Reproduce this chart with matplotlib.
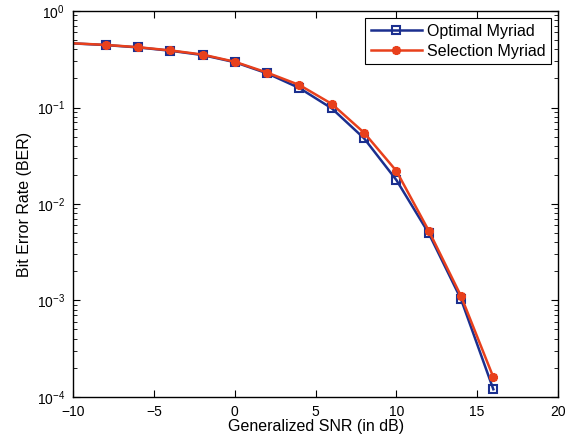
import numpy as np
import matplotlib
matplotlib.use('Agg')
import matplotlib.pyplot as plt
from matplotlib.ticker import LogLocator, FixedLocator, NullFormatter

plt.rcParams['font.family'] = ['Liberation Sans', 'DejaVu Sans']
plt.rcParams['mathtext.fontset'] = 'custom'
plt.rcParams['mathtext.rm'] = 'Liberation Sans'
plt.rcParams['mathtext.it'] = 'Liberation Sans'

# data
snr_db = [-10, -8, -6, -4, -2, 0, 2, 4, 6, 8, 10, 12, 14, 16]
ber_optimal = [0.462, 0.444, 0.420, 0.388, 0.350, 0.295, 0.226, 0.159, 0.098,
               0.0479, 0.0177, 0.00497, 0.00103, 0.000120]
ber_selection = [0.463, 0.446, 0.422, 0.391, 0.354, 0.298, 0.230, 0.171, 0.109,
                 0.0548, 0.0220, 0.00529, 0.00111, 0.000160]

blue = '#1b2f8f'
red = '#e8401c'
fs = 11.5
tick_fs = 10

fig = plt.figure(figsize=(5.77, 4.42), dpi=100)
ax = fig.add_axes([0.127, 0.102, 0.840, 0.873])

marks = list(range(1, len(snr_db)))
ax.semilogy(snr_db, ber_optimal, color=blue, lw=1.8, marker='s', ms=5.5,
            mfc='none', mew=1.5, markevery=marks, label='Optimal Myriad')
ax.semilogy(snr_db, ber_selection, color=red, lw=1.8, marker=(8, 2, 0), ms=6.5,
            mew=1.8, markevery=marks, label='Selection Myriad')

ax.set_xlim(-10, 20)
ax.set_ylim(1e-4, 1)
ax.xaxis.set_major_locator(FixedLocator([-10, -5, 0, 5, 10, 15, 20]))
ax.yaxis.set_major_locator(LogLocator(base=10, numticks=10))
ax.yaxis.set_minor_locator(LogLocator(base=10, subs=np.arange(2, 10), numticks=10))
ax.yaxis.set_minor_formatter(NullFormatter())
ax.set_xticklabels(['\u221210', '\u22125', '0', '5', '10', '15', '20'])

ax.tick_params(which='both', direction='in', top=True, right=True, labelsize=tick_fs)
ax.tick_params(which='major', length=5)
ax.tick_params(which='minor', length=3)
ax.tick_params(axis='x', pad=6)
ax.tick_params(axis='y', pad=6)
for s in ax.spines.values():
    s.set_linewidth(1.0)

ax.set_xlabel('Generalized SNR (in dB)', fontsize=fs, labelpad=0)
ax.set_ylabel('Bit Error Rate (BER)', fontsize=fs, labelpad=3)

leg = ax.legend(loc='upper right', fontsize=fs, handlelength=3.2, fancybox=False,
                edgecolor='black', framealpha=1, borderpad=0.35, labelspacing=0.3,
                handletextpad=0.3, borderaxespad=0.45)
leg.get_frame().set_linewidth(0.8)

fig.savefig('out.png', dpi=100)
